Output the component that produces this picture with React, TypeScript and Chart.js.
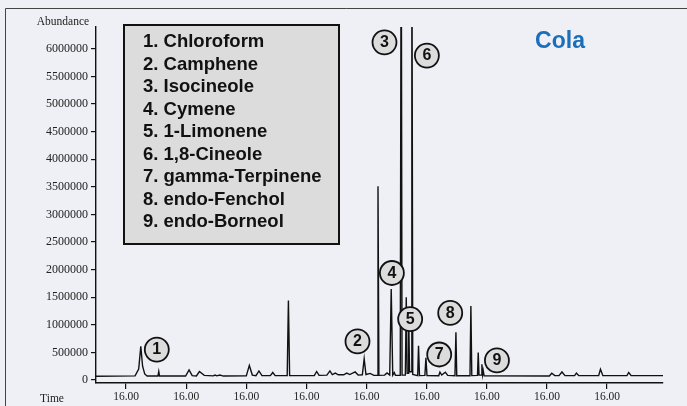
import React, { useEffect, useRef } from "react";
import { Chart, registerables } from "chart.js";

Chart.register(...registerables);

// ---- data ----
const TIME = [
  -0.5, 0.15, 0.21, 0.245, 0.275, 0.31, 0.35, 0.53, 0.544, 0.556,
  0.99, 1.048, 1.1, 1.17, 1.22, 1.3, 1.45, 1.48, 1.51, 1.56,
  1.62, 2.0, 2.05, 2.1, 2.16, 2.21, 2.26, 2.4, 2.44, 2.48,
  2.68, 2.7, 2.72, 3.13, 3.17, 3.21, 3.34, 3.39, 3.43, 3.48,
  3.53, 3.62, 3.67, 3.72, 3.81, 3.86, 3.93, 3.96, 3.99, 4.06,
  4.12, 4.175, 4.19, 4.205, 4.3, 4.34, 4.385, 4.41, 4.435, 4.46,
  4.48, 4.56, 4.576, 4.59, 4.645, 4.66, 4.675, 4.69, 4.7, 4.715,
  4.74, 4.753, 4.768, 4.85, 4.864, 4.88, 4.97, 4.987, 5.005, 5.2,
  5.22, 5.25, 5.31, 5.35, 5.47, 5.486, 5.5, 5.72, 5.735, 5.75,
  5.845, 5.857, 5.87, 5.905, 5.918, 5.93, 5.94, 5.955, 7.04, 7.08,
  7.13, 7.2, 7.25, 7.3, 7.46, 7.49, 7.53, 7.86, 7.89, 7.93,
  8.33, 8.36, 8.4, 8.93,
];
const ABUNDANCE = [
  70000, 75000, 200000, 610000, 250000, 110000, 72000, 72000, 155000, 72000,
  72000, 185000, 80000, 75000, 155000, 85000, 75000, 90000, 76000, 90000,
  72000, 75000, 265000, 90000, 80000, 165000, 80000, 80000, 137000, 80000,
  80000, 1440000, 80000, 80000, 155000, 85000, 90000, 165000, 100000, 125000,
  95000, 95000, 125000, 100000, 147000, 90000, 95000, 385000, 100000, 120000,
  85000, 85000, 3510000, 85000, 90000, 130000, 90000, 1650000, 90000, 135000,
  85000, 85000, 9000000, 90000, 90000, 1500000, 120000, 120000, 1200000, 150000,
  150000, 9000000, 100000, 80000, 622000, 80000, 85000, 403000, 80000, 78000,
  142000, 90000, 142000, 85000, 78000, 865000, 78000, 78000, 1340000, 80000,
  85000, 497000, 90000, 90000, 284000, 100000, 170000, 75000, 72000, 124000,
  80000, 80000, 147000, 80000, 80000, 125000, 80000, 80000, 195000, 80000,
  80000, 137000, 80000, 80000,
];
const Y_TICKS = [
  0, 500000, 1000000, 1500000, 2000000, 2500000, 3000000, 3500000,
  4000000, 4500000, 5000000, 5500000, 6000000,
];
const X_TICKS = [0, 1, 2, 3, 4, 5, 6, 7, 8];
const X_TICK_LABEL = "16.00";
const COMPOUNDS = [
  "1. Chloroform",
  "2. Camphene",
  "3. Isocineole",
  "4. Cymene",
  "5. 1-Limonene",
  "6. 1,8-Cineole",
  "7. gamma-Terpinene",
  "8. endo-Fenchol",
  "9. endo-Borneol",
];
const PEAK_LABELS = ["1", "2", "3", "4", "5", "6", "7", "8", "9"];
const PEAK_LABEL_TIME = [0.511, 3.849, 4.298, 4.421, 4.725, 5.003, 5.208, 5.391, 6.168];
const PEAK_LABEL_ABUNDANCE = [552000, 700000, 6120000, 1940000, 1105000, 5880000, 463000, 1217000, 356000];
const SAMPLE_NAME = "Cola";
const Y_TITLE = "Abundance";
const X_TITLE = "Time";

const X_MIN = -0.5;
const X_MAX = 8.93;
const Y_MIN = -53500;
const Y_MAX = 6397000;

const SERIF = '"Liberation Serif", "Times New Roman", serif';
const SANS = '"Liberation Sans", Arial, sans-serif';
const BG = "#eef0f5";

const decorPlugin = {
  id: "decor",
  beforeDraw(chart: any) {
    const ctx = chart.ctx;
    ctx.save();
    ctx.fillStyle = BG;
    ctx.fillRect(0, 0, chart.width, chart.height);
    ctx.strokeStyle = "#444";
    ctx.lineWidth = 1;
    ctx.beginPath();
    ctx.moveTo(5.5, chart.height);
    ctx.lineTo(5.5, 8.5);
    ctx.lineTo(chart.width, 8.5);
    ctx.stroke();
    ctx.restore();
  },
  afterDatasetsDraw(chart: any) {
    const ctx = chart.ctx;
    const xs = chart.scales.x;
    const ys = chart.scales.y;
    ctx.save();
    // peak number circles
    PEAK_LABELS.forEach((lab, i) => {
      const cx = xs.getPixelForValue(PEAK_LABEL_TIME[i]);
      const cy = ys.getPixelForValue(PEAK_LABEL_ABUNDANCE[i]);
      ctx.beginPath();
      ctx.arc(cx, cy, 12, 0, Math.PI * 2);
      ctx.fillStyle = "#dcdcdc";
      ctx.fill();
      ctx.lineWidth = 1.8;
      ctx.strokeStyle = "#111";
      ctx.stroke();
      ctx.fillStyle = "#111";
      ctx.font = `bold 16px ${SANS}`;
      ctx.textAlign = "center";
      ctx.textBaseline = "middle";
      ctx.fillText(lab, cx, cy + 0.5);
    });
    // legend box
    ctx.fillStyle = "#dcdcdc";
    ctx.fillRect(124, 25, 215, 219);
    ctx.lineWidth = 2;
    ctx.strokeStyle = "#111";
    ctx.strokeRect(124, 25, 215, 219);
    ctx.fillStyle = "#111";
    ctx.font = `bold 18.5px ${SANS}`;
    ctx.textAlign = "left";
    ctx.textBaseline = "middle";
    COMPOUNDS.forEach((c, i) => {
      ctx.fillText(c, 143, 42 + 22.5 * i);
    });
    // sample name
    ctx.fillStyle = "#1a6fba";
    ctx.font = `bold 23px ${SANS}`;
    ctx.textAlign = "center";
    ctx.fillText(SAMPLE_NAME, 560, 42);
    // axis titles
    ctx.fillStyle = "#222";
    ctx.font = `11.5px ${SERIF}`;
    ctx.fillText(Y_TITLE, 63, 22);
    ctx.fillText(X_TITLE, 52, 399);
    ctx.restore();
  },
};

export default function App() {
  const ref = useRef<HTMLCanvasElement | null>(null);
  useEffect(() => {
    document.body.style.margin = "0";
    const canvas = ref.current;
    if (!canvas) return;
    const chart = new Chart(canvas, {
      type: "line",
      data: {
        datasets: [
          {
            data: TIME.map((t, i) => ({ x: t, y: ABUNDANCE[i] })),
            borderColor: "#111",
            borderWidth: 1.4,
            pointRadius: 0,
            tension: 0,
            fill: false,
          },
        ],
      },
      options: {
        responsive: false,
        animation: false,
        layout: { padding: { left: 0, top: 27, right: 24, bottom: 0 } },
        plugins: {
          legend: { display: false },
          tooltip: { enabled: false },
        },
        scales: {
          x: {
            type: "linear",
            min: X_MIN,
            max: X_MAX,
            afterBuildTicks: (s: any) => {
              s.ticks = X_TICKS.map((value) => ({ value }));
            },
            afterFit: (s: any) => {
              s.height = 23;
            },
            grid: { drawOnChartArea: false, drawTicks: true, tickLength: 6, color: "#111", lineWidth: 1.2 },
            border: { display: true, color: "#111", width: 1.6 },
            ticks: {
              callback: () => X_TICK_LABEL,
              font: { family: SERIF, size: 11.5 },
              color: "#222",
              padding: 1,
              maxRotation: 0,
              autoSkip: false,
            },
          },
          y: {
            type: "linear",
            min: Y_MIN,
            max: Y_MAX,
            afterBuildTicks: (s: any) => {
              s.ticks = Y_TICKS.map((value) => ({ value }));
            },
            afterFit: (s: any) => {
              s.width = 96;
            },
            grid: { drawOnChartArea: false, drawTicks: true, tickLength: 5, color: "#111", lineWidth: 1.2 },
            border: { display: true, color: "#111", width: 1.4 },
            ticks: {
              callback: (v: any) => String(v),
              font: { family: SERIF, size: 12 },
              color: "#222",
              padding: 3,
              autoSkip: false,
            },
          },
        },
      },
      plugins: [decorPlugin],
    } as any);
    return () => chart.destroy();
  }, []);
  return (
    <div style={{ width: 687, height: 406 }}>
      <canvas ref={ref} width={687} height={406} style={{ display: "block", width: 687, height: 406 }} />
    </div>
  );
}
